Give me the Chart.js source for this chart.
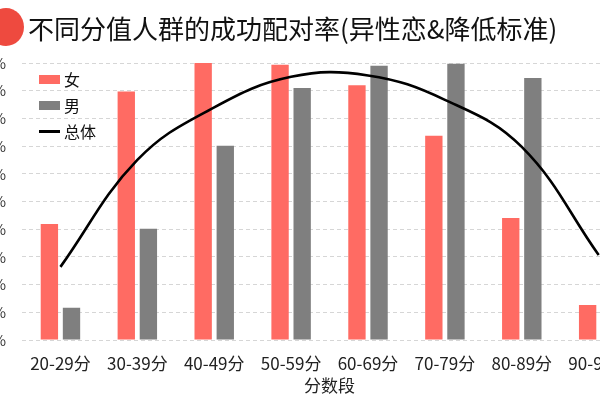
<!DOCTYPE html>
<html><head><meta charset="utf-8">
<script src="https://cdn.jsdelivr.net/npm/chart.js@4"></script>
<style>
html,body{margin:0;padding:0;width:600px;height:400px;overflow:hidden;background:#fff;font-family:"Noto Sans CJK SC","Noto Sans",sans-serif;}
#wrap{position:absolute;left:-58px;top:0;width:700px;height:400px;}
#title{position:absolute;left:28px;top:9px;font-size:26px;color:#111;line-height:38px;white-space:nowrap;}
#logo{position:absolute;left:-12px;top:8px;width:36px;height:38px;border-radius:50%;background:#ee4a3f;}
#legend{position:absolute;left:39px;top:66px;font-size:16px;color:#111;}
.row{height:26px;display:flex;align-items:center;}
.sw{width:21px;margin-right:4px;}
</style></head>
<body>
<div id="wrap"><canvas id="c" width="700" height="400"></canvas></div>
<div id="logo"></div>
<div id="title">不同分值人群的成功配对率(异性恋&amp;降低标准)</div>
<div id="legend"></div>
<script>
const categories = ['20-29分','30-39分','40-49分','50-59分','60-69分','70-79分','80-89分','90-99分'];
const femaleValues = [4.19, 8.97, 10.0, 9.94, 9.2, 7.37, 4.4, 1.26];
const maleValues = [1.16, 4.02, 7.01, 9.1, 9.9, 9.97, 9.46, 4.5];
const totalValues = [2.64, 6.5, 8.4, 9.5, 9.55, 8.67, 6.97, 3.07];
const seriesNames = ['女','男','总体'];
const yMin = 0, yMax = 10, yStep = 1;
const xAxisTitle = '分数段';

const femaleColor = '#ff6b63', maleColor = '#7f7f7f', totalColor = '#000000';

const chart = new Chart(document.getElementById('c'), {
  type: 'bar',
  data: {
    labels: categories,
    datasets: [
      {type:'line', label: seriesNames[2], data: totalValues, borderColor: totalColor, backgroundColor: totalColor,
       borderWidth: 2.6, pointRadius: 0, tension: 0.4, fill: false, order: 0},
      {label: seriesNames[0], data: femaleValues, backgroundColor: femaleColor, order: 1,
       categoryPercentage: 0.575, barPercentage: 0.785},
      {label: seriesNames[1], data: maleValues, backgroundColor: maleColor, order: 1,
       categoryPercentage: 0.575, barPercentage: 0.785}
    ]
  },
  options: {
    responsive: false,
    animation: false,
    layout: {padding: {top: 63, left: 0, right: 0, bottom: 0}},
    plugins: {legend: {display: false}, title: {display: false}, tooltip: {enabled: false}},
    scales: {
      x: {
        grid: {display: false, drawTicks: false},
        border: {display: false},
        ticks: {padding: 13, color: '#222', font: {size: 17, family: '"Noto Sans CJK SC"'}},
        title: {display: true, text: xAxisTitle, color: '#222', font: {size: 17, family: '"Noto Sans CJK SC"'}, padding: {top: 0, bottom: 4}},
        afterFit: s => { s.height = 60; }
      },
      y: {
        min: yMin, max: yMax,
        grid: {color: '#d6d6d6', lineWidth: 1, drawTicks: false},
        border: {display: false, dash: [4, 3]},
        ticks: {stepSize: yStep, padding: 16, color: '#333', font: {size: 15, family: '"Noto Sans CJK SC"'}, callback: v => v + '%'},
        afterFit: s => { s.width = 80; }
      }
    }
  }
});

// HTML legend built from datasets
const legend = document.getElementById('legend');
[1, 2, 0].forEach(i => {
  const ds = chart.data.datasets[i];
  const row = document.createElement('div'); row.className = 'row';
  const sw = document.createElement('div'); sw.className = 'sw';
  if (ds.type === 'line') { sw.style.height = '3px'; sw.style.background = ds.borderColor; }
  else { sw.style.height = '9px'; sw.style.background = ds.backgroundColor; }
  const t = document.createElement('span'); t.textContent = ds.label;
  row.appendChild(sw); row.appendChild(t); legend.appendChild(row);
});
</script>
</body></html>
